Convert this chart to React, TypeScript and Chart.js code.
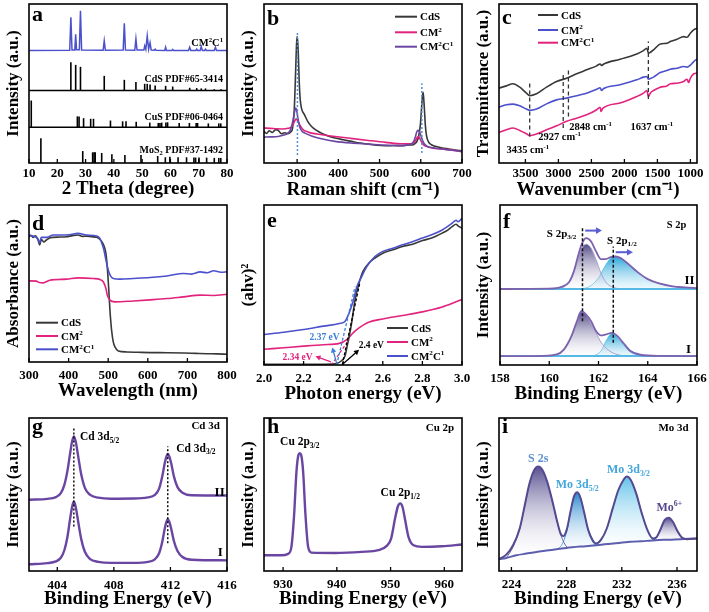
import React, { useEffect, useRef } from "react";
import { Chart, registerables } from "chart.js";

Chart.register(...registerables);

const SERIF = "'Liberation Serif', 'Times New Roman', Times, serif";
const GRAY = "#383838";
const PINK = "#e2237d";
const PURPLE = "#6a46a2";
const BLUE = "#4b50cb";
const DOTBLUE = "#4f8fd6";

// ---------------- (a) XRD ----------------
const A_X_TICKS = [10, 20, 30, 40, 50, 60, 70, 80];
const A_X_LABELS = ["10", "20", "30", "40", "50", "60", "70", "80"];
const A_XRD_CM2C1 = [
  [10, 70.7], [24.4, 70.9], [24.8, 91.6], [25.2, 71.0], [26.2, 71.0], [26.5, 81.0], [26.8, 71.2], [27.8, 71.2],
  [28.2, 95.8], [28.6, 71.0], [36.2, 70.9], [36.6, 76.8], [37.0, 70.9], [43.3, 71.0], [43.7, 87.9], [44.1, 71.0],
  [47.4, 70.9], [47.8, 78.0], [48.2, 71.0], [50.6, 71.0], [50.9, 73.6], [51.3, 71.4], [51.8, 79.9], [52.3, 71.5],
  [52.8, 75.7], [53.2, 71.0], [54.3, 70.9], [54.6, 71.6], [54.9, 70.9], [58.0, 70.8], [58.3, 72.8], [58.6, 70.8],
  [60.5, 70.8], [60.8, 71.4], [61.1, 70.8], [66.4, 70.8], [66.8, 72.8], [67.2, 70.8], [69.0, 70.8], [69.3, 71.6],
  [69.6, 70.8], [70.5, 70.8], [70.9, 73.2], [71.3, 70.8], [72.1, 70.8], [72.4, 71.6], [72.7, 70.8], [75.5, 70.8],
  [75.9, 72.8], [76.3, 70.8], [80, 70.8],
];
const A_BASE_CDS = 45.6;
const A_BASE_CUS = 22.5;
const A_BASE_MOS2 = 0;
const A_CDS_STICKS = [
  [24.8, 63.4], [26.5, 61.7], [28.2, 60.5], [36.6, 54.8], [43.7, 52.3], [47.8, 51.0], [50.9, 49.8], [51.8, 49.8],
  [52.8, 49.4], [54.6, 48.7], [58.3, 48.5], [60.8, 48.1], [66.8, 47.3], [69.3, 47.1], [70.9, 46.9], [72.4, 46.9],
  [75.5, 46.4], [77.9, 46.4],
];
const A_CUS_STICKS = [
  [10.8, 39.3], [27.1, 29.3], [27.7, 29.3], [29.3, 28.2], [31.8, 27.8], [32.8, 27.8], [38.8, 26.7], [43.1, 26.2],
  [44.3, 26.2], [47.9, 25.9], [52.7, 25.4], [55.7, 25.2], [56.3, 25.2], [56.9, 25.4], [58.4, 25.4], [59.0, 25.6],
  [63.1, 25.2], [66.7, 25.2], [69.1, 25.2], [69.6, 25.2], [73.4, 24.9], [77.1, 24.9], [77.8, 24.9],
];
const A_MOS2_STICKS = [
  [14.2, 15.6], [29.0, 7.5], [32.5, 6.7], [33.0, 6.7], [33.4, 6.7], [35.7, 6.3], [39.3, 5.5], [43.9, 5.0],
  [49.6, 5.0], [55.5, 4.4], [58.2, 3.6], [59.8, 4.0], [62.7, 3.6], [65.7, 3.6], [68.3, 3.4], [68.9, 3.4],
  [70.1, 3.4], [72.8, 3.4], [75.5, 3.2], [77.1, 3.2], [77.8, 3.2],
];
const A_SEPARATORS = [A_BASE_CDS, A_BASE_CUS];

// ---------------- (b) Raman ----------------
const B_X_TICKS = [300, 400, 500, 600, 700];
const B_X_LABELS = ["300", "400", "500", "600", "700"];
const B_CDS = [
  [219.7, 19.9], [226, 18.6], [232, 20.3], [240, 19.2], [248, 21.0], [254, 20.6], [262, 18.4], [270, 19.0],
  [278, 18.5], [285, 19.6], [289, 22], [293, 33], [296.5, 58], [298.5, 74], [300, 79.5], [301.5, 76], [303, 68],
  [305, 52], [307.5, 40], [311, 34], [318, 30.3], [326, 26], [335, 23], [347, 20.5], [359, 18.8], [375, 17],
  [392, 15.7], [412, 14.6], [432, 13.6], [452, 12.6], [473, 11.9], [493, 11.2], [513, 10.9], [534, 11.0],
  [554, 10.9], [568, 11.3], [578, 11.3], [586, 12.2], [591, 13.8], [595, 17], [599, 24], [602, 35], [604, 42],
  [605.5, 44.4], [607, 41], [609, 33], [611, 24], [614, 17], [619, 13.2], [626, 11.5], [635, 10.5], [650, 9.6],
  [668, 8.8], [684, 8.1], [700, 7.7],
];
const B_CM2 = [
  [219.7, 22.0], [235, 21.8], [250, 21.5], [265, 21.4], [278, 21.8], [286, 22.6], [291, 24.5], [295, 26.8],
  [297.5, 27.6], [300.5, 27], [304, 25.3], [309, 22.8], [315, 20.9], [325, 19.7], [335, 18.8], [360, 17.8],
  [392, 16.7], [430, 15.5], [473, 14.2], [515, 13.0], [554, 12.1], [578, 12.1], [586, 13.6], [590, 15.4],
  [593, 16.7], [596, 16.2], [600, 14.2], [606, 11.5], [615, 10.3], [627, 9.4], [648, 8.8], [668, 8.4], [700, 7.1],
];
const B_CM2C1 = [
  [219.7, 16.3], [236, 16.4], [254, 16.7], [268, 17.6], [278, 18.8], [284, 21], [288, 24.5], [292, 29.5],
  [295, 33.5], [297, 34.6], [299, 33], [302, 28], [306, 23], [312, 20], [319, 18.8], [335, 17], [351, 15.7],
  [370, 14.6], [392, 13.6], [430, 12.6], [473, 11.9], [515, 11.2], [554, 10.9], [570, 11.4], [578, 12.1],
  [583, 13.6], [587, 16.5], [590, 19.3], [593, 20.5], [596, 20.0], [599, 18.3], [602, 15.8], [605, 13.8],
  [610, 11.6], [615, 10.5], [630, 9.6], [651, 8.8], [675, 8.0], [700, 7.3],
];
const B_MARKERS = [[300.8, 5, 82], [602.6, 6.3, 50.2]];

// ---------------- (c) FTIR ----------------
const C_X_TICKS = [3500, 3000, 2500, 2000, 1500, 1000];
const C_X_LABELS = ["3500", "3000", "2500", "2000", "1500", "1000"];
const C_CDS = [
  [3900, 47.1], [3789, 48.5], [3687, 49.8], [3586, 47.7], [3484, 43.9], [3434, 42.3], [3332, 43.5], [3180, 47.7],
  [3028, 51.3], [2876, 53.3], [2724, 56.1], [2572, 58.6], [2420, 61.1], [2369, 62.3], [2344, 61.3], [2319, 62.1],
  [2065, 65.3], [1812, 68.6], [1711, 70.7], [1660, 72.2], [1635, 69.0], [1609, 69.5], [1559, 71.1], [1457, 74.9],
  [1356, 75.3], [1305, 76.4], [1204, 77.8], [1102, 79.5], [1052, 79.1], [1001, 81.6], [950, 83.7], [900, 84.7],
];
const C_CM2 = [
  [3900, 35.1], [3789, 36.6], [3687, 37.0], [3586, 36.0], [3484, 33.9], [3434, 33.1], [3332, 33.9], [3180, 37.2],
  [3028, 39.7], [2876, 40.8], [2724, 42.3], [2572, 43.9], [2420, 46.4], [2369, 47.3], [2344, 45.6], [2319, 46.7],
  [2065, 49.2], [1812, 52.3], [1711, 54.0], [1660, 54.4], [1635, 52.7], [1609, 53.1], [1559, 54.0], [1457, 56.9],
  [1356, 58.2], [1305, 59.0], [1204, 59.6], [1102, 60.7], [1052, 60.3], [1001, 61.5], [950, 63.8], [900, 65.3],
];
const C_CM2C1 = [
  [3900, 19.2], [3789, 20.9], [3687, 22.0], [3586, 20.5], [3484, 18.4], [3434, 17.2], [3332, 18.2], [3180, 20.9],
  [3028, 23.4], [2876, 26.2], [2724, 28.2], [2572, 30.3], [2420, 33.5], [2369, 35.1], [2354, 32.4], [2329, 34.3],
  [2065, 37.7], [1812, 41.8], [1711, 43.9], [1660, 45.6], [1635, 41.8], [1609, 43.9], [1559, 45.6], [1457, 47.7],
  [1356, 48.5], [1305, 49.8], [1204, 50.2], [1102, 51.3], [1052, 52.7], [1026, 50.6], [1001, 53.3], [950, 56.1],
  [900, 56.5],
];
const C_MARKERS = [[3435, 16.7, 50.2], [2927, 22.0, 55.4], [2848, 29.3, 59.6], [1637, 40.2, 76.4]];

// ---------------- (d) UV-vis ----------------
const D_X_TICKS = [300, 400, 500, 600, 700, 800];
const D_X_LABELS = ["300", "400", "500", "600", "700", "800"];
const D_CDS = [
  [300, 79.8], [305, 80.6], [310, 79.4], [316, 80.4], [322.8, 77.7], [327, 74.5], [331.3, 78.1], [337, 76.5],
  [343.9, 77.7], [352, 79.0], [360.8, 79.4], [378, 79.6], [394.6, 79.8], [410, 80.5], [424.2, 80.9], [435, 80.0],
  [445.3, 80.2], [458, 79.8], [470.6, 79.4], [479.1, 78.1], [487.5, 75.1], [494.3, 69.1], [497.6, 60.6],
  [501, 47.9], [504.4, 33.0], [508.6, 20.2], [512.8, 12.8], [517.1, 9.6], [525.5, 7.0], [546.6, 6.4], [575, 6.2],
  [605.7, 6.0], [650, 5.9], [690.2, 5.7], [720, 5.5], [749.3, 5.3], [775, 5.2], [800, 4.9],
];
const D_CM2 = [
  [300, 51.7], [318.6, 51.5], [326, 50.6], [335.5, 50.4], [352.4, 52.1], [394.6, 52.8], [424.2, 53.6],
  [462.2, 53.2], [479.1, 52.6], [487.5, 51.1], [494.3, 46.8], [497.6, 42.6], [504.4, 39.4], [517.1, 38.3],
  [563.5, 38.9], [605.7, 39.6], [648, 40.4], [690.2, 41.5], [732.4, 42.6], [766, 42.4], [800, 43.2],
];
const D_CM2C1 = [
  [300, 80.9], [310, 80.2], [322, 78.7], [327, 76.0], [331, 79.4], [345, 79.4], [361, 80.9], [395, 80.9],
  [424, 81.9], [445, 80.9], [471, 80.2], [479, 78.7], [483.3, 76.0], [489.2, 71.3], [494.3, 64.9], [500.2, 58.5],
  [506.1, 54.7], [512.8, 53.2], [529.7, 52.8], [563.5, 53.2], [605.7, 53.8], [648, 54.8], [690.2, 56.4],
  [710, 56.0], [732.4, 57.4], [750, 56.8], [766.2, 58.1], [785, 57.2], [800, 57.4],
];

// ---------------- (e) Tauc ----------------
const E_X_TICKS = [2.0, 2.2, 2.4, 2.6, 2.8, 3.0];
const E_X_LABELS = ["2.0", "2.2", "2.4", "2.6", "2.8", "3.0"];
const E_CDS = [
  [2.0, 0.4], [2.2, 0.4], [2.3, 0.5], [2.36, 0.8], [2.39, 2.5], [2.41, 6], [2.42, 11.8], [2.44, 24.3],
  [2.46, 40.9], [2.48, 51.2], [2.5, 58.5], [2.53, 63.7], [2.56, 66.8], [2.6, 69.9], [2.65, 72], [2.7, 74.1],
  [2.75, 75.5], [2.8, 77.8], [2.85, 79.5], [2.9, 82.4], [2.93, 84.5], [2.95, 86.5], [2.97, 88], [2.98, 87],
  [3.0, 85.5],
];
const E_CM2 = [
  [2.0, 9.8], [2.1, 10.8], [2.2, 11.8], [2.3, 12.7], [2.38, 13.5], [2.42, 16], [2.45, 20.1], [2.48, 23.2],
  [2.52, 26.3], [2.6, 28.8], [2.7, 30.9], [2.8, 33.2], [2.9, 36.3], [2.97, 39.5], [3.0, 40.9],
];
const E_CM2C1 = [
  [2.0, 19.1], [2.1, 20.5], [2.2, 22.2], [2.3, 24.3], [2.38, 25.9], [2.41, 27.4], [2.43, 32.6], [2.45, 39.8],
  [2.47, 49.2], [2.49, 54.4], [2.52, 61.6], [2.56, 67.8], [2.6, 71], [2.65, 73], [2.7, 75.1], [2.75, 77],
  [2.8, 79.3], [2.85, 81.5], [2.9, 84.4], [2.95, 88.6], [2.97, 90.5], [2.98, 89.5], [3.0, 91.7],
];
const E_TANGENT_CDS = [[2.395, 0], [2.485, 52]];
const E_TANGENT_CM2C1 = [[2.367, 0], [2.46, 49]];
const E_TANGENT_CM2 = [[2.34, 0], [2.43, 16]];

// ---------------- (f) S 2p ----------------
const F_X_TICKS = [158, 160, 162, 164, 166];
const F_X_LABELS = ["158", "160", "162", "164", "166"];
const F_BASE_II = 47.5;
const F_BASE_I = 5.6;
const F_II_ENV = [
  [158, 47.5], [160, 47.7], [160.5, 48.8], [160.8, 51.7], [161.0, 58.5], [161.2, 69.9], [161.35, 76.6],
  [161.5, 79.3], [161.7, 77.2], [161.9, 71.0], [162.1, 66.2], [162.3, 66.2], [162.5, 67.4], [162.7, 67.8],
  [162.9, 66.8], [163.2, 63.3], [163.6, 57.9], [164.0, 53.7], [164.5, 50.8], [165, 49.2], [165.5, 48.5], [166, 48.1],
];
const F_II_P32 = [
  [160.3, 47.5], [160.6, 48.8], [160.9, 54.4], [161.1, 63.7], [161.3, 72.4], [161.5, 75.5], [161.7, 73.0],
  [161.9, 65.8], [162.1, 57.5], [162.3, 51.7], [162.6, 48.5], [163, 47.5],
];
const F_II_P12 = [
  [161.2, 47.5], [161.6, 48.8], [162.0, 54.4], [162.3, 62.7], [162.5, 66.8], [162.7, 67.8], [162.9, 66.8],
  [163.2, 63.3], [163.6, 57.9], [164, 53.7], [164.5, 50.8], [165, 49.2], [165.5, 48.3], [166, 47.9],
];
const F_I_ENV = [
  [158, 5.6], [159.5, 5.6], [160.3, 6.6], [160.6, 9.8], [160.9, 18.0], [161.1, 26.3], [161.3, 33.6],
  [161.5, 31.5], [161.7, 27.4], [161.9, 21.2], [162.1, 18.5], [162.3, 19.1], [162.55, 20.1], [162.8, 17.6],
  [163.0, 13.9], [163.3, 8.7], [163.7, 6.4], [164.5, 5.7], [166, 5.6],
];
const F_I_P32 = [
  [160.2, 5.6], [160.6, 9.3], [160.9, 17.6], [161.1, 25.9], [161.3, 33.2], [161.5, 31.1], [161.7, 26.1],
  [161.9, 20.1], [162.1, 14.3], [162.4, 9.3], [162.8, 6.4], [163.2, 5.6],
];
const F_I_P12 = [
  [161.8, 5.6], [162.1, 8.7], [162.3, 14.9], [162.55, 19.7], [162.8, 16.6], [163.0, 12.9], [163.3, 8.1],
  [163.7, 6.0], [164, 5.6],
];
const F_MARKERS = [[161.35, 27.4, 86.5], [162.6, 13.9, 74]];

// ---------------- (g) Cd 3d ----------------
const G_X_TICKS = [404, 408, 412, 416];
const G_X_LABELS = ["404", "408", "412", "416"];
const G_II = [
  [402, 45.6], [403.3, 46.2], [403.9, 47.4], [404.25, 50.0], [404.5, 55.5], [404.72, 65.0], [404.9, 76.0],
  [405.05, 84.5], [405.17, 87.8], [405.3, 84.5], [405.47, 75.0], [405.68, 63.0], [405.95, 53.5], [406.3, 49.0],
  [406.9, 47.0], [407.8, 46.3], [409.4, 46.4], [410.4, 47.2], [410.9, 48.8], [411.2, 53.0], [411.42, 61.0],
  [411.6, 70.0], [411.72, 74.5], [411.81, 76.0], [411.92, 74.5], [412.05, 70.0], [412.25, 61.0], [412.5, 54.0],
  [412.85, 50.3], [413.5, 48.6], [416, 48.4],
];
const G_I = [
  [402, 2.7], [403.3, 3.4], [403.9, 4.6], [404.25, 7.0], [404.5, 12.0], [404.72, 21.0], [404.9, 32.5],
  [405.05, 41.0], [405.17, 44.4], [405.3, 41.0], [405.47, 31.5], [405.68, 20.0], [405.95, 11.0], [406.3, 6.3],
  [406.9, 4.3], [407.8, 3.6], [409.4, 3.6], [410.4, 4.3], [410.9, 6.0], [411.2, 10.0], [411.42, 17.5],
  [411.6, 26.5], [411.72, 31.0], [411.81, 32.7], [411.92, 31.0], [412.05, 26.5], [412.25, 18.0], [412.5, 11.5],
  [412.85, 7.5], [413.5, 5.7], [416, 5.3],
];
const G_MARKERS = [[405.17, 27.8, 93.3], [411.81, 16.7, 81.1]];

// ---------------- (h) Cu 2p ----------------
const H_X_TICKS = [930, 940, 950, 960];
const H_X_LABELS = ["930", "940", "950", "960"];
const H_CU2P = [
  [926.45, 10.3], [929.69, 10.3], [930.93, 11.2], [931.55, 15.8], [932.05, 36.5], [932.49, 65.0],
  [932.86, 75.9], [933.11, 77.0], [933.36, 75.9], [933.73, 65.0], [934.17, 36.5], [934.66, 15.8],
  [935.29, 12.0], [939.64, 11.8], [944.62, 12.5], [947.73, 13.6], [949.29, 16.4], [950.1, 21.2],
  [950.84, 34.4], [951.34, 42.0], [951.78, 44.2], [952.21, 42.0], [952.71, 33.3], [953.33, 22.3],
  [954.27, 16.8], [955.82, 15.8], [959.55, 16.2], [963.29, 17.3],
];

// ---------------- (i) Mo 3d ----------------
const I_X_TICKS = [224, 228, 232, 236];
const I_X_LABELS = ["224", "228", "232", "236"];
const I_ENVELOPE = [
  [223.1, 7.66], [223.63, 10.72], [224.12, 16.85], [224.6, 27.79], [224.97, 43.11], [225.28, 56.24],
  [225.62, 65.43], [225.94, 68.27], [226.25, 66.08], [226.59, 58.43], [226.98, 45.3], [227.32, 32.17],
  [227.56, 24.51], [227.75, 22.76], [228.0, 26.7], [228.29, 39.17], [228.53, 48.58], [228.77, 51.42],
  [229.01, 47.7], [229.26, 38.73], [229.57, 26.7], [229.89, 20.13], [230.13, 17.94], [230.47, 20.13],
  [230.91, 27.79], [231.34, 40.92], [231.75, 52.95], [232.12, 59.52], [232.36, 61.71], [232.65, 59.52],
  [233.04, 50.77], [233.45, 37.64], [233.86, 26.7], [234.25, 21.23], [234.49, 21.88], [234.78, 26.7],
  [235.1, 33.26], [235.39, 34.79], [235.7, 32.17], [236.04, 26.04], [236.38, 21.66], [236.72, 20.79], [237.45, 21.23],
];
const I_BACKGROUND = [
  [223.1, 7.66], [223.63, 8.53], [224.36, 10.28], [225.09, 11.38], [225.81, 12.47], [226.54, 13.35],
  [227.27, 14.22], [228.0, 15.1], [228.97, 15.97], [230.18, 16.85], [231.39, 17.94], [232.6, 19.04],
  [233.81, 19.69], [235.03, 20.35], [236.24, 20.79], [237.45, 21.23],
];
const I_S2S = [
  [223.63, 8.53], [224.12, 15.76], [224.6, 27.35], [224.97, 42.67], [225.28, 55.8], [225.62, 65.21],
  [225.94, 68.05], [226.25, 65.87], [226.59, 58.21], [226.98, 44.86], [227.32, 31.73], [227.63, 22.32],
  [227.95, 16.41], [228.1, 15.2],
];
const I_MO52 = [
  [227.32, 14.22], [227.63, 16.85], [228.0, 25.6], [228.29, 38.73], [228.53, 48.14], [228.77, 51.2],
  [229.01, 47.92], [229.26, 38.29], [229.57, 26.26], [229.89, 19.04], [230.18, 16.85],
];
const I_MO32 = [
  [229.94, 16.7], [230.47, 19.47], [230.91, 27.35], [231.34, 40.48], [231.75, 52.52], [232.12, 59.3],
  [232.36, 61.49], [232.65, 59.3], [233.04, 50.55], [233.45, 37.42], [233.86, 26.26], [234.25, 20.57], [234.54, 19.9],
];
const I_MO6 = [
  [234.18, 19.9], [234.49, 21.44], [234.78, 26.26], [235.1, 32.82], [235.39, 34.57], [235.7, 31.95],
  [236.04, 25.6], [236.38, 21.44], [236.67, 20.7],
];

// ---------------- helpers ----------------
function curve(data: number[][], color: string, width = 1.6, extra: any = {}) {
  return {
    type: "line",
    data: data.map(([x, y]) => ({ x, y })),
    borderColor: color,
    borderWidth: width,
    pointRadius: 0,
    fill: false,
    cubicInterpolationMode: "monotone",
    ...extra,
  };
}
function straight(data: number[][], color: string, width = 1.4, dash: number[] = []) {
  return curve(data, color, width, { cubicInterpolationMode: "default", tension: 0, borderDash: dash });
}
function vline(m: number[], color: string, dash: number[], width = 1.4) {
  return straight([[m[0], m[1]], [m[0], m[2]]], color, width, dash);
}
function fade(top: string, bottom: string) {
  return (c: any) => {
    const chart = c.chart;
    if (!chart.chartArea) return top;
    const ds = chart.data.datasets[c.datasetIndex];
    const ys = ds.data.map((p: any) => p.y);
    const sc = chart.scales.y;
    const y0 = sc.getPixelForValue(Math.max(...ys));
    const y1 = sc.getPixelForValue(Math.min(...ys));
    const g = chart.ctx.createLinearGradient(0, y0, 0, y1 + 1);
    g.addColorStop(0, top);
    g.addColorStop(1, bottom);
    return g;
  };
}
function band(data: number[][], line: string, top: string, bottom: string, target: any) {
  return curve(data, line, 1, { fill: target, backgroundColor: fade(top, bottom) });
}

function drawRich(ctx: any, s: string, x: number, y: number, size: number, color: string, align: string) {
  const parts: { t: string; m: string }[] = [];
  const re = /([_^])\{([^}]*)\}/g;
  let last = 0;
  let m: any;
  while ((m = re.exec(s))) {
    if (m.index > last) parts.push({ t: s.slice(last, m.index), m: "" });
    parts.push({ t: m[2], m: m[1] });
    last = re.lastIndex;
  }
  if (last < s.length) parts.push({ t: s.slice(last), m: "" });
  const fs = (p: any) => (p.m ? size * 0.65 : size);
  let w = 0;
  for (const p of parts) {
    ctx.font = `bold ${fs(p)}px ${SERIF}`;
    w += ctx.measureText(p.t).width;
  }
  let cx = align === "center" ? x - w / 2 : align === "right" ? x - w : x;
  const base = y + size * 0.33;
  ctx.fillStyle = color;
  ctx.textAlign = "left";
  ctx.textBaseline = "alphabetic";
  for (const p of parts) {
    ctx.font = `bold ${fs(p)}px ${SERIF}`;
    const dy = p.m === "_" ? size * 0.22 : p.m === "^" ? -size * 0.4 : 0;
    ctx.fillText(p.t, cx, base + dy);
    cx += ctx.measureText(p.t).width;
  }
}

function decor(d: any) {
  return {
    id: "decor" + d.letter,
    afterDatasetsDraw(chart: any) {
      const ctx = chart.ctx;
      const a = chart.chartArea;
      const xs = chart.scales.x;
      const ys = chart.scales.y;
      ctx.save();
      for (const ar of d.arrows || []) {
        const x1 = xs.getPixelForValue(ar.x1), y1 = ys.getPixelForValue(ar.y1);
        const x2 = xs.getPixelForValue(ar.x2), y2 = ys.getPixelForValue(ar.y2);
        const hs = ar.head || 5;
        const ang = Math.atan2(y2 - y1, x2 - x1);
        ctx.strokeStyle = ar.color;
        ctx.fillStyle = ar.color;
        ctx.lineWidth = ar.width || 1.3;
        ctx.beginPath();
        ctx.moveTo(x1, y1);
        ctx.lineTo(x2 - Math.cos(ang) * hs * 0.8, y2 - Math.sin(ang) * hs * 0.8);
        ctx.stroke();
        ctx.beginPath();
        ctx.moveTo(x2, y2);
        ctx.lineTo(x2 - hs * Math.cos(ang) + hs * 0.55 * Math.sin(ang), y2 - hs * Math.sin(ang) - hs * 0.55 * Math.cos(ang));
        ctx.lineTo(x2 - hs * Math.cos(ang) - hs * 0.55 * Math.sin(ang), y2 - hs * Math.sin(ang) + hs * 0.55 * Math.cos(ang));
        ctx.closePath();
        ctx.fill();
      }
      for (const t of d.texts || []) {
        drawRich(ctx, t.s, xs.getPixelForValue(t.x), ys.getPixelForValue(t.y), t.size || 11, t.color || "#000", t.align || "center");
      }
      if (d.legend) {
        const L = d.legend;
        L.items.forEach((it: any, i: number) => {
          const y = a.top + L.dy[i];
          ctx.strokeStyle = it.color;
          ctx.lineWidth = 2;
          ctx.setLineDash([]);
          ctx.beginPath();
          ctx.moveTo(a.left + L.dx, y);
          ctx.lineTo(a.left + L.dx + L.len, y);
          ctx.stroke();
          drawRich(ctx, it.s, a.left + L.dx + L.len + 3, y, L.size || 11, "#000", "left");
        });
      }
      ctx.setLineDash([]);
      ctx.strokeStyle = "#000";
      ctx.lineWidth = 1.6;
      ctx.strokeRect(a.left, a.top, a.right - a.left, a.bottom - a.top);
      ctx.lineWidth = 1.3;
      for (const v of d.ticks) {
        const px = xs.getPixelForValue(v);
        ctx.beginPath();
        ctx.moveTo(px, a.bottom);
        ctx.lineTo(px, a.bottom - 4);
        ctx.stroke();
      }
      ctx.fillStyle = "#000";
      ctx.font = `bold 22px ${SERIF}`;
      ctx.textAlign = "left";
      ctx.textBaseline = "alphabetic";
      ctx.fillText(d.letter, a.left + 3, a.top + d.letterDY);
      ctx.restore();
    },
  };
}

function buildConfig(d: any): any {
  const [x0, y0, w, h] = d.box;
  const [L, T, R, B] = d.plot;
  const tickFont = 13;
  const titleFont = 19;
  const yTitleFont = 17;
  return {
    type: "line",
    data: { datasets: d.datasets },
    options: {
      animation: false,
      responsive: false,
      maintainAspectRatio: false,
      devicePixelRatio: 1,
      events: [],
      layout: { padding: { left: 0, top: T - y0, right: x0 + w - R, bottom: 0 } },
      plugins: { legend: { display: false }, tooltip: { enabled: false } },
      scales: {
        x: {
          type: "linear",
          min: d.xMin,
          max: d.xMax,
          reverse: !!d.reverse,
          offset: false,
          grid: { display: false, drawTicks: false },
          border: { display: false },
          afterBuildTicks: (s: any) => {
            s.ticks = d.ticks.map((v: number) => ({ value: v }));
          },
          afterFit: (s: any) => {
            s.height = y0 + h - B;
            s.paddingLeft = 0;
            s.paddingRight = 0;
          },
          ticks: {
            autoSkip: false,
            maxRotation: 0,
            minRotation: 0,
            padding: d.tickY - B - 0.475 * tickFont,
            color: "#000",
            font: { family: SERIF, size: tickFont, weight: "bold" },
            callback: (_v: any, i: number) => d.labels[i],
          },
          title: {
            display: true,
            text: d.xTitle,
            color: "#000",
            font: { family: SERIF, size: titleFont, weight: "bold" },
            padding: { top: 0, bottom: y0 + h - d.titleY - titleFont * 0.6 },
          },
        },
        y: {
          type: "linear",
          min: d.yMin ?? 0,
          max: 100,
          grid: { display: false, drawTicks: false },
          border: { display: false },
          ticks: { display: false },
          afterFit: (s: any) => {
            s.width = L - x0;
            s.paddingTop = 0;
            s.paddingBottom = 0;
          },
          title: {
            display: true,
            text: d.yTitle,
            color: "#000",
            font: { family: SERIF, size: yTitleFont, weight: "bold" },
            padding: { top: d.yTitleX - x0 - yTitleFont * 0.6, bottom: 0 },
          },
        },
      },
    },
    plugins: [decor(d)],
  };
}

// ---------------- panels ----------------
const STICK_TABLE = [
  ...A_CDS_STICKS.map(([x, t]) => ({ x, y: [A_BASE_CDS, t] })),
  ...A_CUS_STICKS.map(([x, t]) => ({ x, y: [A_BASE_CUS, t] })),
  ...A_MOS2_STICKS.map(([x, t]) => ({ x, y: [A_BASE_MOS2, t] })),
];

const LEG3 = (c3: string) => [
  { s: "CdS", color: GRAY },
  { s: "CM^{2}", color: PINK },
  { s: "CM^{2}C^{1}", color: c3 },
];

const PANELS: any[] = [
  {
    letter: "a", box: [0, 0, 240, 204], plot: [29, 4, 227, 163], yTitleX: 14, tickY: 172, titleY: 189, letterDY: 17,
    xMin: 10, xMax: 80, ticks: A_X_TICKS, labels: A_X_LABELS, xTitle: "2 Theta (degree)", yTitle: "Intensity (a.u.)",
    datasets: [
      curve(A_XRD_CM2C1, BLUE, 1.5, { cubicInterpolationMode: "default", tension: 0 }),
      ...A_SEPARATORS.map((v) => straight([[10, v], [80, v]], "#000", 1.5)),
      { type: "bar", data: STICK_TABLE, backgroundColor: "#000", barThickness: 1.6, borderWidth: 0, inflateAmount: 0 },
    ],
    texts: [
      { x: 78.6, y: 75.9, s: "CM^{2}C^{1}", align: "right", size: 10.5 },
      { x: 78.6, y: 52.9, s: "CdS PDF#65-3414", align: "right", size: 10 },
      { x: 78.6, y: 29.1, s: "CuS PDF#06-0464", align: "right", size: 10 },
      { x: 78.6, y: 8.5, s: "MoS_{2} PDF#37-1492", align: "right", size: 10 },
    ],
  },
  {
    letter: "b", box: [233, 0, 241, 204], plot: [264, 4, 462, 163], yTitleX: 249, tickY: 172, titleY: 190, letterDY: 21,
    xMin: 219.7, xMax: 700, ticks: B_X_TICKS, labels: B_X_LABELS, xTitle: "Raman shift (cm\u207B\u00B9)", yTitle: "Intensity (a.u.)",
    datasets: [
      ...B_MARKERS.map((m) => vline(m, DOTBLUE, [2, 2], 1.5)),
      curve(B_CM2C1, PURPLE, 1.6),
      curve(B_CM2, PINK, 1.6),
      curve(B_CDS, GRAY, 1.6),
    ],
    legend: { dx: 131, dy: [12.7, 28.3, 42.7], len: 22, size: 11, items: LEG3(PURPLE) },
  },
  {
    letter: "c", box: [468, 0, 241, 204], plot: [499, 4, 697, 163], yTitleX: 484, tickY: 172, titleY: 190, letterDY: 20,
    xMin: 900, xMax: 3900, reverse: true, ticks: C_X_TICKS, labels: C_X_LABELS, xTitle: "Wavenumber (cm\u207B\u00B9)", yTitle: "Transmittance (a.u.)",
    datasets: [
      ...C_MARKERS.map((m) => vline(m, "#333", [4, 3], 1.3)),
      curve(C_CM2C1, PINK, 1.6),
      curve(C_CM2, BLUE, 1.6),
      curve(C_CDS, GRAY, 1.6),
    ],
    texts: [
      { x: 3464, y: 8.4, s: "3435 cm^{-1}", size: 10.5 },
      { x: 2983, y: 16.7, s: "2927 cm^{-1}", size: 10.5 },
      { x: 2511, y: 23, s: "2848 cm^{-1}", size: 10.5 },
      { x: 1584, y: 23, s: "1637 cm^{-1}", size: 10.5 },
    ],
    legend: { dx: 39, dy: [11, 26, 38.7], len: 20, size: 11, items: [{ s: "CdS", color: GRAY }, { s: "CM^{2}", color: BLUE }, { s: "CM^{2}C^{1}", color: PINK }] },
  },
  {
    letter: "d", box: [0, 200, 240, 207], plot: [29, 205, 227, 362], yTitleX: 14, tickY: 374, titleY: 391, letterDY: 25,
    xMin: 300, xMax: 800, ticks: D_X_TICKS, labels: D_X_LABELS, xTitle: "Wavelength (nm)", yTitle: "Absorbance (a.u.)",
    datasets: [curve(D_CM2C1, BLUE, 1.6), curve(D_CM2, PINK, 1.6), curve(D_CDS, GRAY, 1.6)],
    legend: { dx: 7, dy: [117.7, 131, 144.3], len: 22, size: 11, items: LEG3(BLUE) },
  },
  {
    letter: "e", box: [233, 200, 241, 207], plot: [264, 205, 462, 365], yTitleX: 249, tickY: 377, titleY: 394, letterDY: 22,
    xMin: 2.0, xMax: 3.0, ticks: E_X_TICKS, labels: E_X_LABELS, xTitle: "Photon energy (eV)", yTitle: "(ahv)\u00B2",
    datasets: [
      straight(E_TANGENT_CM2C1, "#3b7fd4", 1.3, [3, 2]),
      straight(E_TANGENT_CDS, "#000", 1.3, [3, 2]),
      straight(E_TANGENT_CM2, PINK, 1.2, [3, 2]),
      curve(E_CM2C1, BLUE, 1.6),
      curve(E_CDS, GRAY, 1.6),
      curve(E_CM2, PINK, 1.6),
    ],
    arrows: [
      { x1: 2.367, y1: 1, x2: 2.345, y2: 11, color: "#3b7fd4" },
      { x1: 2.338, y1: 2, x2: 2.26, y2: 5.4, color: PINK },
      { x1: 2.4, y1: 0.8, x2: 2.48, y2: 9.5, color: "#000" },
    ],
    texts: [
      { x: 2.306, y: 17.7, s: "2.37 eV", color: "#3b7fd4", size: 9.5 },
      { x: 2.17, y: 5, s: "2.34 eV", color: PINK, size: 9.5 },
      { x: 2.478, y: 12.5, s: "2.4 eV", align: "left", size: 9.5 },
    ],
    legend: { dx: 123, dy: [123, 137, 151], len: 21, size: 11, items: LEG3(BLUE) },
  },
  {
    letter: "f", box: [468, 200, 241, 207], plot: [500, 205, 697, 365], yTitleX: 484, tickY: 377.5, titleY: 394, letterDY: 23,
    xMin: 158, xMax: 166, ticks: F_X_TICKS, labels: F_X_LABELS, xTitle: "Binding Energy (eV)", yTitle: "Intensity (a.u.)",
    datasets: [
      ...F_MARKERS.map((m) => vline(m, "#111", [3, 2], 1.5)),
      curve(F_II_ENV, "#7d62ae", 1.8),
      curve(F_I_ENV, "#7d62ae", 1.8),
      straight([[158, F_BASE_II], [166, F_BASE_II]], "#55b9e4", 2),
      straight([[158, F_BASE_I], [166, F_BASE_I]], "#55b9e4", 2),
      band(F_II_P32, "#a99fcf", "rgba(72,64,128,0.95)", "rgba(255,255,255,0.2)", { value: F_BASE_II }),
      band(F_II_P12, "#5cc3ea", "rgba(30,160,215,0.95)", "rgba(225,245,252,0.4)", { value: F_BASE_II }),
      band(F_I_P32, "#a99fcf", "rgba(72,64,128,0.95)", "rgba(255,255,255,0.2)", { value: F_BASE_I }),
      band(F_I_P12, "#5cc3ea", "rgba(30,160,215,0.95)", "rgba(225,245,252,0.4)", { value: F_BASE_I }),
    ],
    arrows: [
      { x1: 161.46, y1: 84, x2: 162.14, y2: 84, color: "#5a5cd2", width: 2, head: 6 },
      { x1: 162.7, y1: 70.5, x2: 163.4, y2: 70.5, color: "#5a5cd2", width: 2, head: 6 },
    ],
    texts: [
      { x: 160.5, y: 82.4, s: "S 2p_{3/2}", size: 11 },
      { x: 162.95, y: 78.2, s: "S 2p_{1/2}", size: 11 },
      { x: 165.17, y: 87.6, s: "S 2p", size: 10.5 },
      { x: 165.7, y: 53.3, s: "II", size: 13 },
      { x: 165.66, y: 10.2, s: "I", size: 13 },
    ],
  },
  {
    letter: "g", box: [0, 405, 240, 207], plot: [29, 418, 227, 571], yMin: -1.8, yTitleX: 14, tickY: 584, titleY: 599, letterDY: 15,
    xMin: 402, xMax: 416, ticks: G_X_TICKS, labels: G_X_LABELS, xTitle: "Binding Energy (eV)", yTitle: "Intensity (a.u.)",
    datasets: [
      ...G_MARKERS.map((m) => vline(m, "#111", [2, 2], 1.5)),
      curve(G_II, PURPLE, 2.4),
      curve(G_I, PURPLE, 2.4),
    ],
    texts: [
      { x: 405.6, y: 87.8, s: "Cd 3d_{5/2}", align: "left", size: 11.5 },
      { x: 412.41, y: 80, s: "Cd 3d_{3/2}", align: "left", size: 11.5 },
      { x: 414.49, y: 95.1, s: "Cd 3d", size: 11 },
      { x: 415.48, y: 50.7, s: "II", size: 13 },
      { x: 415.53, y: 11.1, s: "I", size: 13 },
    ],
  },
  {
    letter: "h", box: [233, 405, 241, 207], plot: [264, 418, 462, 571], yTitleX: 249, tickY: 583, titleY: 599, letterDY: 15,
    xMin: 926.45, xMax: 963.29, ticks: H_X_TICKS, labels: H_X_LABELS, xTitle: "Binding Energy (eV)", yTitle: "Intensity (a.u.)",
    datasets: [curve(H_CU2P, PURPLE, 2.4)],
    texts: [
      { x: 933.1, y: 84.7, s: "Cu 2p_{3/2}", size: 11.5 },
      { x: 951.8, y: 51.4, s: "Cu 2p_{1/2}", size: 11.5 },
      { x: 959.2, y: 93.9, s: "Cu 2p", size: 11 },
    ],
  },
  {
    letter: "i", box: [468, 405, 241, 207], plot: [499, 418, 697, 571], yTitleX: 484, tickY: 583, titleY: 599, letterDY: 15,
    xMin: 223.1, xMax: 237.45, ticks: I_X_TICKS, labels: I_X_LABELS, xTitle: "Binding Energy (eV)", yTitle: "Intensity (a.u.)",
    datasets: [
      curve(I_ENVELOPE, "#55498f", 2),
      curve(I_BACKGROUND, "#5d5fae", 2),
      band(I_S2S, "#6e66a8", "rgba(80,72,140,0.95)", "rgba(255,255,255,0.1)", 1),
      band(I_MO52, "#3c9ad6", "rgba(30,130,205,0.95)", "rgba(235,246,252,0.2)", 1),
      band(I_MO32, "#6cc4ea", "rgba(90,190,232,0.95)", "rgba(240,250,254,0.2)", 1),
      band(I_MO6, "#4c418a", "rgba(80,72,140,0.95)", "rgba(255,255,255,0.2)", 1),
    ],
    texts: [
      { x: 225.94, y: 73.7, s: "S 2s", color: "#5d8fd0", size: 12 },
      { x: 228.77, y: 56.7, s: "Mo 3d_{5/2}", color: "#44a6dc", size: 12 },
      { x: 232.48, y: 66.7, s: "Mo 3d_{3/2}", color: "#44a6dc", size: 12 },
      { x: 235.44, y: 42, s: "Mo^{6+}", color: "#55478c", size: 12 },
      { x: 235.75, y: 93.9, s: "Mo 3d", size: 11 },
    ],
  },
];

function Panel({ def }: { def: any }) {
  const ref = useRef<HTMLCanvasElement>(null);
  useEffect(() => {
    const chart = new Chart(ref.current as HTMLCanvasElement, buildConfig(def));
    return () => chart.destroy();
  }, []);
  const [x0, y0, w, h] = def.box;
  return (
    <canvas
      ref={ref}
      width={w}
      height={h}
      style={{ position: "absolute", left: x0, top: y0, width: w, height: h }}
    />
  );
}

export default function App() {
  return (
    <div style={{ position: "absolute", left: 0, top: 0, width: 709, height: 612, background: "#fff", overflow: "hidden" }}>
      {PANELS.map((p) => (
        <Panel key={p.letter} def={p} />
      ))}
    </div>
  );
}
